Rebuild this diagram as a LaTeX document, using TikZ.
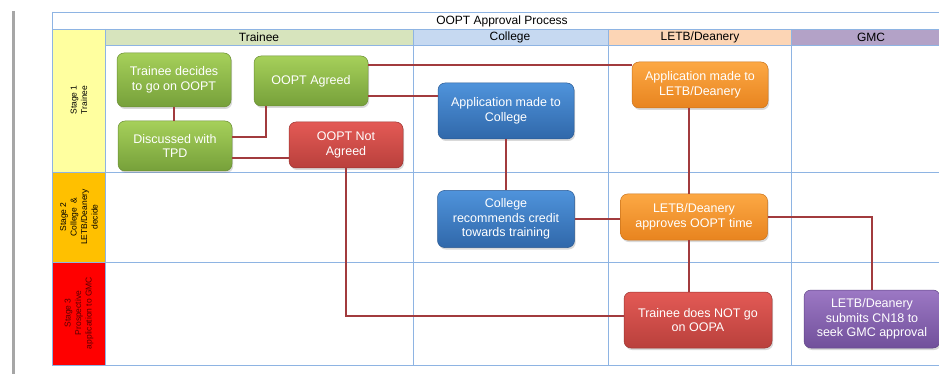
\documentclass[tikz,border=0pt]{standalone}
\usepackage{fontspec}
\setmainfont{Liberation Sans}
\usetikzlibrary{shadows}

%% colours
\definecolor{gridblue}{HTML}{8EB4E3}
\definecolor{bargray}{HTML}{A6A6A6}
\definecolor{linkred}{HTML}{A23B3E}
\definecolor{hdtrainee}{HTML}{D7E4BD}
\definecolor{hdcollege}{HTML}{C6D9F1}
\definecolor{hdletb}{HTML}{FCD5B5}
\definecolor{hdgmc}{HTML}{B3A2C7}
\definecolor{stone}{HTML}{FFFF9F}
\definecolor{sttwo}{HTML}{FFC000}
\definecolor{stthree}{HTML}{FF0000}
\definecolor{stthreetext}{HTML}{5A0000}
\definecolor{grnT}{HTML}{A6D05A}
\definecolor{grnB}{HTML}{76A03A}
\definecolor{grnD}{HTML}{6A8E34}
\definecolor{redT}{HTML}{E35A55}
\definecolor{redB}{HTML}{B9403C}
\definecolor{redD}{HTML}{9A3431}
\definecolor{bluT}{HTML}{4F93DB}
\definecolor{bluB}{HTML}{3068AA}
\definecolor{bluD}{HTML}{2B5A93}
\definecolor{ornT}{HTML}{FCA844}
\definecolor{ornB}{HTML}{E8841F}
\definecolor{ornD}{HTML}{C9731C}
\definecolor{purT}{HTML}{9C78C4}
\definecolor{purB}{HTML}{71509B}
\definecolor{purD}{HTML}{5F4485}

\newcommand{\boxfont}{\fontsize{12.5}{14.7}\selectfont}
\newcommand{\headfont}{\fontsize{12}{14}\selectfont}
\newcommand{\stagefont}{\fontsize{8.5}{10.5}\selectfont}

\tikzset{
    grid/.style={draw=gridblue, line width=0.8pt},
    link/.style={draw=linkred, line width=1.1pt},
    stagelabel/.style={rotate=90, align=center, font=\stagefont, inner sep=0pt},
    headlabel/.style={font=\headfont, inner sep=0pt},
    box/.style={rounded corners=7pt, line width=0.5pt, align=center, text=white,
        font=\boxfont, inner sep=2pt,
        drop shadow={opacity=0.3, shadow xshift=1.2pt, shadow yshift=-2pt}},
    greenbox/.style={box, draw=grnD, top color=grnT, bottom color=grnB},
    redbox/.style={box, draw=redD, top color=redT, bottom color=redB},
    bluebox/.style={box, draw=bluD, top color=bluT, bottom color=bluB},
    orangebox/.style={box, draw=ornD, top color=ornT, bottom color=ornB},
    purplebox/.style={box, draw=purD, top color=purT, bottom color=purB},
}

\begin{document}
\begin{tikzpicture}[x=1pt,y=-1pt]
    \useasboundingbox (0,0) rectangle (939,374);
    %% page edge
    \draw[bargray, line width=3pt] (13,11) -- (13,374);
    %% lane headers
    \fill[hdtrainee] (105,29) rectangle (413,45);
    \fill[hdcollege] (413,29) rectangle (608,45);
    \fill[hdletb] (608,29) rectangle (791,45);
    \fill[hdgmc] (791,29) rectangle (960,45);
    %% stage column
    \fill[stone] (52,29) rectangle (105,172);
    \fill[sttwo] (52,172) rectangle (105,262);
    \fill[stthree] (52,262) rectangle (105,365);
    %% grid lines
    \draw[grid] (52,12) -- (960,12);
    \draw[grid] (52,29) -- (960,29);
    \draw[grid] (105,45) -- (960,45);
    \draw[grid] (52,172) -- (960,172);
    \draw[grid] (52,262) -- (960,262);
    \draw[grid] (52,365) -- (960,365);
    \draw[grid] (52,12) -- (52,365);
    \foreach \xx in {105,413,608,791}
        \draw[grid] (\xx,29) -- (\xx,365);
    %% titles
    \node[headlabel] (title) at (502,21) {OOPT Approval Process};
    \node[headlabel] (trainee) at (259,37.5) {Trainee};
    \node[headlabel] (college) at (510,37.5) {College};
    \node[headlabel] (letb) at (700,37.5) {LETB/Deanery};
    \node[headlabel] (gmc) at (871,37.5) {GMC};
    \node[stagelabel] (stage1) at (79,100) {Stage 1\\Trainee};
    \node[stagelabel] (stage2) at (79,217) {Stage 2\\College \ \&\\LETB/Deanery\\decide};
    \node[stagelabel, text=stthreetext] (stage3) at (79,313) {Stage 3\\Prospective\\application to GMC};
    %% process boxes
    \node[greenbox, minimum width=114pt, minimum height=54pt] (decide) at (174,80)
        {Trainee decides\\to go on OOPT};
    \node[greenbox, minimum width=114pt, minimum height=50pt] (tpd) at (175,146)
        {Discussed with\\TPD};
    \node[greenbox, minimum width=114pt, minimum height=50pt] (agreed) at (311,81)
        {OOPT Agreed};
    \node[redbox, minimum width=114pt, minimum height=46pt] (notagreed) at (346,145)
        {OOPT Not\\Agreed};
    \node[bluebox, minimum width=136pt, minimum height=56pt] (appcollege) at (506,111)
        {Application made to\\College};
    \node[orangebox, minimum width=136pt, minimum height=46pt] (appletb) at (700,85)
        {Application made to\\LETB/Deanery};
    \node[bluebox, minimum width=137pt, minimum height=57pt] (credit) at (506,219)
        {College\\recommends credit\\towards training};
    \node[orangebox, minimum width=147pt, minimum height=46pt] (approves) at (694,217)
        {LETB/Deanery\\approves OOPT time};
    \node[redbox, minimum width=148pt, minimum height=56pt] (notgo) at (698,320)
        {Trainee does NOT go\\on OOPA};
    \node[purplebox, minimum width=136pt, minimum height=58pt] (cn18) at (872,319)
        {LETB/Deanery\\submits CN18 to\\seek GMC approval};
    %% connectors
    \draw[link] (decide.south) -- (decide.south |- tpd.north);
    \draw[link] ([yshift=9pt]tpd.east) -| ([xshift=-45pt]agreed.south);
    \draw[link] ([yshift=-12pt]tpd.east) -- ([yshift=-12pt]tpd.east -| notagreed.west);
    \draw[link] ([yshift=16pt]agreed.east) -- ([yshift=16pt]agreed.east -| appletb.west);
    \draw[link] ([yshift=-15pt]agreed.east) -- ([yshift=-15pt]agreed.east -| appcollege.west);
    \draw[link] (appcollege.south) -- (credit.north);
    \draw[link] ([xshift=-11pt]appletb.south) -- ([xshift=-11pt]appletb.south |- approves.north);
    \draw[link] (credit.east) -- (credit.east -| approves.west);
    \draw[link] (approves.east) -| (cn18.north);
    \draw[link] ([xshift=-5pt]approves.south) -- ([xshift=-5pt]approves.south |- notgo.north);
    \draw[link] (notagreed.south) |- ([yshift=4pt]notgo.west);
\end{tikzpicture}
\end{document}
